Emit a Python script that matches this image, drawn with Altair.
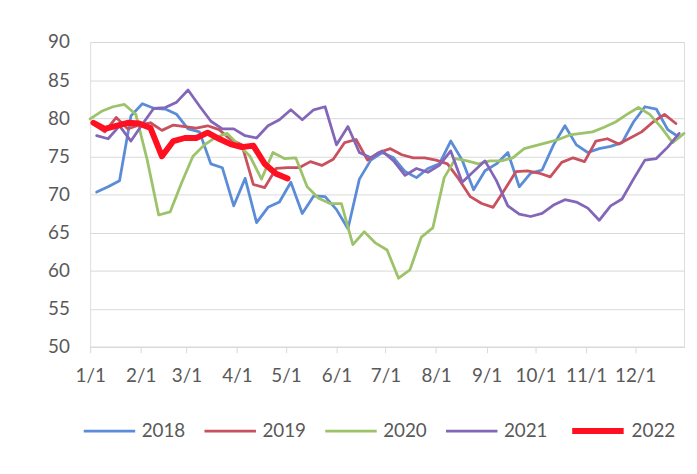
import altair as alt
import pandas as pd

years = ["2018", "2019", "2020", "2021", "2022"]
colors = ["#5B8CD7", "#C9505E", "#9CC36A", "#8466B8", "#FF0F1F"]
widths = [2.8, 2.8, 2.8, 2.8, 6.0]
start_days = [4, 2, 0, 4, 2]

v2018 = [70.3, 71.0, 71.8, 80.3, 81.9, 81.3, 81.2, 80.5, 78.6, 78.2, 74.0, 73.5, 68.5,
         72.1, 66.3, 68.3, 69.0, 71.6, 67.5, 69.8, 69.7, 68.0, 65.5, 72.0, 74.5, 75.5,
         74.8, 73.0, 72.2, 73.4, 74.0, 77.0, 74.5, 70.6, 73.1, 74.0, 75.5, 71.0, 72.8,
         73.2, 76.5, 79.0, 76.5, 75.5, 76.0, 76.3, 76.8, 79.5, 81.5, 81.2, 78.5, 77.5]
v2019 = [79.2, 78.2, 80.1, 78.6, 79.1, 79.4, 78.4, 79.1, 78.9, 78.7, 79.0, 78.5, 77.2,
         76.5, 71.3, 70.9, 73.4, 73.5, 73.5, 74.3, 73.8, 74.6, 76.8, 77.2, 74.5, 75.5,
         76.0, 75.2, 74.8, 74.8, 74.5, 74.0, 72.0, 69.7, 68.8, 68.3, 70.6, 73.0, 73.1,
         72.8, 72.3, 74.2, 74.8, 74.3, 77.0, 77.3, 76.6, 77.4, 78.2, 79.5, 80.5, 79.3]
v2020 = [79.9, 80.9, 81.5, 81.8, 80.5, 74.5, 67.3, 67.7, 71.5, 75.0, 76.5, 77.5, 78.0,
         76.5, 75.0, 72.0, 75.5, 74.7, 74.8, 71.0, 69.5, 68.8, 68.8, 63.4, 65.1, 63.6,
         62.7, 59.0, 60.1, 64.4, 65.6, 72.2, 74.7, 74.4, 74.0, 74.4, 74.4, 74.8, 76.0,
         76.4, 76.8, 77.2, 77.8, 78.0, 78.2, 78.8, 79.5, 80.5, 81.4, 80.5, 78.8, 76.8, 78.0]
v2021 = [77.7, 77.3, 79.0, 77.0, 79.2, 81.3, 81.4, 82.1, 83.7, 81.6, 79.6, 78.6, 78.6,
         77.7, 77.4, 79.0, 79.8, 81.1, 79.8, 81.1, 81.5, 76.5, 78.9, 75.5, 74.8, 75.7,
         74.4, 72.5, 73.4, 72.9, 73.8, 75.7, 71.6, 73.0, 74.4, 71.8, 68.5, 67.4, 67.1,
         67.5, 68.6, 69.3, 69.0, 68.2, 66.6, 68.5, 69.4, 72.0, 74.5, 74.7, 76.2, 78.0]
v2022 = [79.4, 78.6, 79.0, 79.4, 79.3, 78.7, 75.0, 77.0, 77.4, 77.4, 78.1, 77.3, 76.6,
         76.2, 76.4, 74.0, 72.7, 72.1]

series = [v2018, v2019, v2020, v2021, v2022]
base_day = pd.Timestamp("2021-01-01")
rows = []
for yr, sd, vals in zip(years, start_days, series):
    for i, v in enumerate(vals):
        d = base_day + pd.Timedelta(days=sd + 7 * i)
        rows.append({"year": yr, "date": d.strftime("%Y-%m-%d"), "value": v})
df = pd.DataFrame(rows)

month_ticks = [alt.DateTime(year=2021, month=m, date=1, utc=True) for m in range(1, 13)]
y_ticks = [50, 55, 60, 65, 70, 75, 80, 85, 90]
FONT = "Lato"
GRAY = "#595959"
GRID = "#d9d9d9"

legend = alt.Legend(
    title=None, orient="none", legendX=-8, legendY=364, direction="horizontal",
    symbolType="stroke", symbolSize=2704, labelFontSize=19,
    labelColor=GRAY, labelFont=FONT, columnPadding=12, labelOffset=5,
)

chart = alt.Chart(df).mark_line(strokeJoin="round", strokeCap="round").encode(
    x=alt.X("date:T",
            scale=alt.Scale(type="utc", domain=[alt.DateTime(year=2021, month=1, date=1, utc=True),
                                                 alt.DateTime(year=2021, month=12, date=31, utc=True)]),
            axis=alt.Axis(values=month_ticks, labelExpr="utcFormat(datum.value, '%-m/%-d')",
                          grid=False, tickSize=6, tickColor=GRID, domainColor=GRID,
                          labelPadding=14, labelFontSize=19, labelColor=GRAY, labelFont=FONT,
                          title=None, labelFlush=False)),
    y=alt.Y("value:Q", scale=alt.Scale(domain=[50, 90]),
            axis=alt.Axis(values=y_ticks, title=None, domain=False, ticks=False, labelPadding=21,
                          gridColor=GRID, labelFontSize=19, labelColor=GRAY, labelFont=FONT)),
    color=alt.Color("year:N", scale=alt.Scale(domain=years, range=colors), legend=legend),
    strokeWidth=alt.StrokeWidth("year:N", scale=alt.Scale(type="ordinal", domain=years, range=widths),
                                legend=legend),
    order=alt.Order("date:T"),
).properties(
    width=600, height=308,
    autosize=alt.AutoSizeParams(type="none"),
    padding={"left": 83, "top": 32, "right": 5, "bottom": 110},
).configure_view(strokeWidth=0).configure(background="white")

chart.save("out.html", embed_options={"renderer": "svg", "actions": False})
